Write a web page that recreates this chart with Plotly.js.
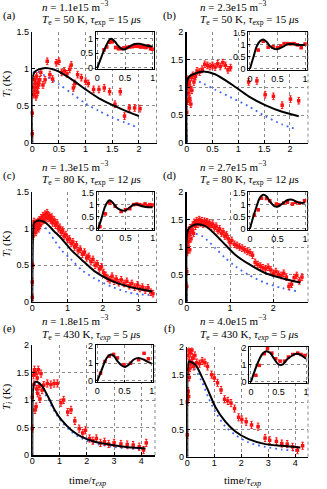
<!DOCTYPE html>
<html>
<head>
<meta charset="utf-8">
<script src="https://cdn.plot.ly/plotly-3.0.1.min.js"></script>
<style>
  html, body { margin: 0; padding: 0; background: #fff; }
  #fig { width: 327px; height: 489px; }
</style>
</head>
<body>
<div id="fig"></div>
<script>
// ---- panel (a) ----
var aX = [0.0, 0.0, 0.02, 0.03, 0.04, 0.05, 0.06, 0.07, 0.08, 0.09, 0.1, 0.11, 0.12, 0.14, 0.16, 0.2, 0.24, 0.28, 0.33, 0.38, 0.45, 0.5, 0.55, 0.6, 0.65, 0.7, 0.73, 0.77, 0.8, 0.85, 0.92, 1.0, 1.05, 1.15, 1.25, 1.35, 1.45, 1.55, 1.65, 1.73, 1.82, 1.92, 2.02];
var aY = [0.12, 0.4, 0.65, 0.75, 0.85, 0.7, 0.8, 0.62, 0.9, 0.75, 0.68, 0.82, 0.78, 0.85, 0.95, 0.78, 0.85, 1.1, 0.92, 0.86, 1.08, 1.1, 0.95, 0.97, 0.93, 0.99, 1.05, 0.74, 0.8, 0.92, 0.88, 0.83, 0.8, 0.72, 0.72, 0.74, 0.69, 0.52, 0.69, 0.36, 0.47, 0.47, 0.46];
var aFitX = [0, 0.01, 0.05, 0.12, 0.25, 0.4, 0.5, 0.75, 1.0, 1.25, 1.5, 1.75, 2.0];
var aFitY = [0, 0.9, 0.96, 0.99, 1.01, 0.99, 0.96, 0.85, 0.72, 0.6, 0.51, 0.43, 0.36];
var aBlueX = [0, 0.02, 0.1, 0.25, 0.5, 0.75, 1.0, 1.25, 1.5, 1.75, 2.0];
var aBlueY = [0, 0.95, 0.96, 0.9, 0.79, 0.66, 0.53, 0.43, 0.34, 0.27, 0.2];
var aInX = [0.12, 0.17, 0.22, 0.27, 0.33, 0.38, 0.43, 0.48, 0.53, 0.58, 0.63, 0.68, 0.73, 0.78, 0.83, 0.88, 0.92, 0.96, 0.99];
var aInY = [0.62, 0.72, 0.88, 0.9, 0.7, 0.66, 0.66, 0.68, 0.7, 0.72, 0.73, 0.74, 0.74, 0.72, 0.72, 0.7, 0.75, 0.66, 0.64];
var aInFitX = [0, 0.05, 0.1, 0.16, 0.22, 0.25, 0.32, 0.38, 0.45, 0.5, 0.58, 0.67, 0.76, 0.85, 1.0];
var aInFitY = [0, 0.25, 0.5, 0.77, 0.97, 1.0, 0.9, 0.75, 0.64, 0.64, 0.73, 0.82, 0.83, 0.79, 0.73];

// ---- panel (b) ----
var bX = [0.0, 0.01, 0.02, 0.03, 0.04, 0.05, 0.06, 0.07, 0.08, 0.09, 0.1, 0.12, 0.14, 0.17, 0.2, 0.25, 0.3, 0.35, 0.4, 0.45, 0.5, 0.55, 0.6, 0.65, 0.7, 0.75, 0.8, 0.85, 1.2, 1.36, 1.52, 1.68, 1.85, 2.01, 2.17];
var bY = [0.55, 1.15, 0.75, 1.05, 0.9, 1.1, 0.8, 1.0, 0.7, 1.18, 0.95, 1.22, 1.1, 1.2, 1.3, 1.28, 1.33, 1.42, 1.4, 1.38, 1.4, 1.37, 1.43, 1.38, 1.45, 1.4, 1.32, 1.36, 1.1, 1.12, 0.87, 0.84, 0.68, 0.79, 0.76];
var bFitX = [0, 0.01, 0.05, 0.15, 0.33, 0.55, 0.88, 1.2, 1.52, 1.85, 2.17];
var bFitY = [0, 1.12, 1.2, 1.25, 1.29, 1.24, 1.05, 0.84, 0.68, 0.56, 0.48];
var bBlueX = [0, 0.02, 0.05, 0.3, 0.55, 0.88, 1.2, 1.52, 1.85, 2.14];
var bBlueY = [0, 1.1, 1.17, 1.08, 0.96, 0.81, 0.66, 0.48, 0.33, 0.24];
var bInX = [0.15, 0.24, 0.33, 0.42, 0.5, 0.56, 0.62, 0.68, 0.74, 0.8, 0.86, 0.93, 1.0];
var bInY = [0.78, 1.15, 0.9, 0.92, 0.88, 0.95, 1.05, 1.05, 1.04, 1.05, 1.0, 0.88, 1.03];
var bInFitX = [0, 0.065, 0.12, 0.18, 0.24, 0.3, 0.36, 0.44, 0.5, 0.6, 0.68, 0.77, 0.86, 1.0];
var bInFitY = [0, 0.5, 0.92, 1.15, 1.22, 1.13, 0.95, 0.83, 0.82, 0.92, 1.02, 1.03, 0.99, 0.99];

// ---- panel (c) ----
var cX = [0.0, 0.0, 0.01, 0.02, 0.03, 0.04, 0.05, 0.06, 0.08, 0.1, 0.12, 0.14, 0.16, 0.18, 0.2, 0.22, 0.25, 0.28, 0.3, 0.33, 0.36, 0.39, 0.42, 0.45, 0.48, 0.52, 0.55, 0.58, 0.62, 0.66, 0.7, 0.74, 0.78, 0.82, 0.86, 0.9, 0.95, 1.0, 1.05, 1.1, 1.15, 1.2, 1.25, 1.3, 1.36, 1.42, 1.48, 1.54, 1.6, 1.66, 1.72, 1.78, 1.84, 1.9, 1.96, 2.02, 2.08, 2.14, 2.2, 2.26, 2.32, 2.38, 2.45, 2.52, 2.6, 2.68, 2.75, 2.82, 2.9, 2.98, 3.05, 3.12, 3.2, 3.28, 3.36, 3.42];
var cY = [0.06, 0.27, 0.5, 0.9, 1.05, 0.95, 1.1, 1.0, 1.05, 0.95, 1.08, 1.02, 1.1, 1.0, 1.12, 1.05, 1.15, 1.1, 1.18, 1.12, 1.2, 1.15, 1.22, 1.14, 1.18, 1.12, 1.16, 1.08, 1.12, 1.05, 1.08, 1.0, 1.02, 0.95, 0.98, 0.9, 0.92, 0.85, 0.86, 0.8, 0.82, 0.75, 0.78, 0.7, 0.72, 0.65, 0.68, 0.6, 0.62, 0.55, 0.58, 0.5, 0.52, 0.45, 0.48, 0.4, 0.36, 0.32, 0.3, 0.35, 0.28, 0.31, 0.26, 0.3, 0.25, 0.28, 0.22, 0.25, 0.2, 0.23, 0.18, 0.2, 0.16, 0.19, 0.13, 0.11];
var cFitX = [0, 0.02, 0.05, 0.15, 0.35, 0.63, 0.82, 1.1, 1.39, 1.76, 2.23, 2.7, 3.17, 3.4];
var cFitY = [0, 0.9, 1.08, 1.11, 1.09, 0.96, 0.87, 0.71, 0.58, 0.42, 0.29, 0.21, 0.16, 0.14];
var cBlueX = [0, 0.02, 0.08, 0.35, 0.63, 0.82, 1.1, 1.39, 1.76, 2.23, 2.7, 3.08, 3.35];
var cBlueY = [0, 0.95, 1.04, 1.02, 0.84, 0.71, 0.58, 0.44, 0.32, 0.21, 0.13, 0.1, 0.09];
var cInX = [0.03, 0.13, 0.21, 0.31, 0.42, 0.5, 0.58, 0.65, 0.71, 0.76, 0.81, 0.86, 0.91, 0.95, 0.99];
var cInY = [0.07, 0.61, 1.07, 0.93, 0.71, 0.79, 0.83, 1.0, 1.02, 1.0, 0.97, 1.03, 0.95, 1.0, 0.98];
var cInFitX = [0, 0.06, 0.12, 0.18, 0.21, 0.27, 0.33, 0.42, 0.48, 0.55, 0.64, 0.7, 0.79, 0.91, 1.0];
var cInFitY = [0, 0.43, 0.89, 1.14, 1.18, 1.07, 0.89, 0.77, 0.74, 0.83, 0.99, 1.02, 0.94, 0.89, 0.89];

// ---- panel (d) ----
var dX = [0.0, 0.0, 0.01, 0.02, 0.03, 0.04, 0.05, 0.06, 0.07, 0.08, 0.1, 0.12, 0.14, 0.16, 0.18, 0.2, 0.23, 0.26, 0.29, 0.32, 0.35, 0.38, 0.41, 0.44, 0.47, 0.5, 0.53, 0.56, 0.6, 0.64, 0.68, 0.72, 0.76, 0.8, 0.84, 0.88, 0.92, 0.96, 1.0, 1.04, 1.1, 1.16, 1.22, 1.28, 1.34, 1.4, 1.46, 1.52, 1.58, 1.64, 1.7, 1.76, 1.82, 1.88, 1.94, 2.0, 2.06, 2.12, 2.18, 2.24, 2.3, 2.36, 2.42, 2.48, 2.54, 2.6, 2.66];
var dY = [0.28, 0.55, 0.9, 1.2, 1.0, 1.3, 1.1, 1.25, 0.95, 1.35, 1.15, 1.3, 1.4, 1.25, 1.45, 1.38, 1.48, 1.42, 1.5, 1.44, 1.48, 1.42, 1.47, 1.43, 1.46, 1.4, 1.44, 1.38, 1.42, 1.35, 1.38, 1.3, 1.33, 1.25, 1.28, 1.2, 1.22, 1.15, 1.08, 1.12, 1.05, 1.03, 1.0, 0.98, 0.95, 0.92, 0.9, 0.85, 0.72, 0.68, 0.65, 0.62, 0.6, 0.63, 0.58, 0.52, 0.55, 0.5, 0.48, 0.52, 0.45, 0.28, 0.32, 0.44, 0.48, 0.38, 0.45];
var dFitX = [0, 0.01, 0.05, 0.2, 0.43, 0.66, 0.89, 1.12, 1.43, 1.82, 2.2, 2.62];
var dFitY = [0, 1.25, 1.34, 1.41, 1.38, 1.23, 1.04, 0.86, 0.69, 0.52, 0.43, 0.35];
var dBlueX = [0, 0.02, 0.08, 0.35, 0.66, 0.89, 1.12, 1.43, 1.82, 2.2, 2.55];
var dBlueY = [0, 1.2, 1.25, 1.2, 0.98, 0.8, 0.65, 0.49, 0.34, 0.25, 0.19];
var dInX = [0.08, 0.15, 0.21, 0.3, 0.36, 0.48, 0.52, 0.61, 0.68, 0.77, 0.83, 0.9, 0.99];
var dInY = [0.57, 0.79, 1.27, 1.26, 1.17, 1.03, 1.0, 1.07, 1.11, 1.03, 1.1, 1.07, 1.17];
var dInFitX = [0, 0.06, 0.12, 0.18, 0.24, 0.3, 0.36, 0.45, 0.5, 0.6, 0.68, 0.77, 0.86, 0.95, 1.0];
var dInFitY = [0, 0.5, 0.93, 1.3, 1.42, 1.36, 1.14, 0.93, 0.92, 1.07, 1.2, 1.21, 1.11, 1.07, 1.1];

// ---- panel (e) ----
var eX = [0.0, 0.0, 0.04, 0.06, 0.08, 0.1, 0.12, 0.14, 0.16, 0.18, 0.2, 0.22, 0.25, 0.28, 0.32, 0.36, 0.42, 0.55, 0.68, 0.8, 0.92, 1.05, 1.15, 1.3, 1.42, 1.56, 1.72, 1.85, 1.95, 2.1, 2.22, 2.35, 2.5, 2.65, 2.8, 3.0, 3.25, 3.48, 3.7, 3.92, 4.08, 4.18];
var eY = [0.48, 1.05, 1.45, 1.28, 1.55, 0.82, 1.5, 0.88, 1.2, 1.4, 1.12, 1.55, 1.25, 1.02, 1.48, 1.18, 1.27, 1.3, 1.28, 1.3, 1.3, 0.95, 1.0, 0.78, 0.82, 0.62, 0.48, 0.4, 0.45, 0.3, 0.26, 0.3, 0.22, 0.24, 0.2, 0.22, 0.2, 0.19, 0.18, 0.15, 0.09, 0.22];
var eFitX = [0, 0.02, 0.05, 0.12, 0.33, 0.58, 0.82, 1.07, 1.44, 1.81, 2.3, 2.92, 3.53, 4.15];
var eFitY = [0, 1.15, 1.28, 1.33, 1.27, 1.06, 0.82, 0.64, 0.45, 0.33, 0.24, 0.18, 0.14, 0.12];
var eBlueX = [0, 0.03, 0.2, 0.58, 0.82, 1.07, 1.44, 1.81, 2.3, 2.92, 3.53, 4.1];
var eBlueY = [0, 1.2, 1.3, 1.01, 0.79, 0.61, 0.42, 0.3, 0.21, 0.15, 0.12, 0.1];
var eInX = [0.06, 0.14, 0.22, 0.3, 0.37, 0.49, 0.61, 0.76, 0.86, 0.94];
var eInY = [0.44, 1.1, 1.4, 1.5, 1.3, 0.92, 1.0, 1.2, 1.56, 1.25];
var eInFitX = [0, 0.07, 0.13, 0.19, 0.25, 0.31, 0.37, 0.45, 0.51, 0.58, 0.67, 0.76, 0.85, 0.94, 1.0];
var eInFitY = [0, 0.54, 1.02, 1.37, 1.5, 1.4, 1.12, 0.87, 0.79, 0.92, 1.21, 1.3, 1.21, 1.06, 0.98];

// ---- panel (f) ----
var fX = [0.0, 0.0, 0.02, 0.03, 0.04, 0.05, 0.06, 0.07, 0.08, 0.1, 0.12, 0.14, 0.17, 0.2, 0.24, 0.28, 0.35, 0.45, 0.55, 0.65, 0.75, 0.9, 1.0, 1.12, 1.25, 1.38, 1.5, 1.62, 1.75, 1.9, 2.02, 2.18, 2.38, 2.62, 2.88, 3.05, 3.3, 3.5, 3.7, 3.9, 4.08, 4.27];
var fY = [0.4, 1.0, 1.85, 1.2, 1.6, 1.1, 1.95, 1.45, 1.75, 1.62, 1.9, 1.7, 1.95, 1.8, 1.65, 1.85, 1.72, 1.7, 1.75, 1.72, 1.65, 1.5, 1.44, 1.35, 1.22, 1.05, 1.02, 0.98, 0.88, 0.72, 0.68, 0.64, 0.58, 0.55, 0.34, 0.3, 0.28, 0.24, 0.23, 0.18, 0.12, 0.2];
var fFitX = [0, 0.01, 0.03, 0.07, 0.3, 0.54, 0.79, 1.04, 1.41, 1.78, 2.27, 2.89, 3.5, 4.19];
var fFitY = [0, 1.6, 1.7, 1.74, 1.68, 1.46, 1.19, 0.91, 0.64, 0.46, 0.32, 0.23, 0.2, 0.17];
var fBlueX = [0, 0.03, 0.1, 0.3, 0.54, 0.79, 1.04, 1.41, 1.78, 2.27, 2.89, 3.5, 4.06];
var fBlueY = [0, 1.65, 1.68, 1.59, 1.37, 1.07, 0.82, 0.55, 0.4, 0.26, 0.18, 0.13, 0.11];
var fInX = [0.09, 0.15, 0.24, 0.3, 0.38, 0.45, 0.53, 0.61, 0.68, 0.76, 0.85, 0.91, 0.98];
var fInY = [0.39, 0.97, 1.65, 1.95, 1.69, 1.36, 1.22, 1.22, 1.46, 1.61, 1.69, 1.61, 1.55];
var fInFitX = [0, 0.06, 0.13, 0.21, 0.28, 0.35, 0.42, 0.5, 0.58, 0.65, 0.75, 0.82, 0.9, 1.0];
var fInFitY = [0, 0.58, 1.17, 1.65, 1.8, 1.69, 1.36, 1.03, 1.03, 1.3, 1.55, 1.65, 1.59, 1.36];

// labels
var panelTags = ['(a)', '(b)', '(c)', '(d)', '(e)', '(f)'];
var densities = ['1.1e15', '2.3e15', '1.3e15', '2.7e15', '1.8e15', '4.0e15'];
var tempsK = ['50', '50', '80', '80', '430', '430'];
var tauUs = ['15', '15', '12', '12', '5', '5'];

(function () {
    'use strict';

    var W = 327, H = 489;
    var SANS = 'Liberation Sans, Arial, sans-serif';
    var SERIF = 'Liberation Serif, Times New Roman, serif';
    var RED = '#ff1010';
    var BLUE = '#3f63ff';

    function px(x) { return x / W; }
    function py(y) { return 1 - y / H; }

    // pixel boxes: [left, right, top, bottom]
    var mainBox = [
        [32.3, 156.5, 31.7, 142.7], [186.7, 308, 32.3, 142.7],
        [32.3, 156.5, 192.3, 301.7], [186.7, 308, 192.3, 301.7],
        [32.3, 155, 345, 455], [187.3, 308, 347.3, 456.7]
    ];
    var insetBox = [
        [95.7, 154.3, 31.7, 69], [248.3, 306.7, 32.3, 70],
        [96.7, 154.3, 192.3, 229.5], [248.3, 306.7, 192.3, 230],
        [95.7, 153.3, 345, 382], [249.3, 307.7, 347.3, 383]
    ];
    var mainXMax = [2.33, 2.35, 3.52, 2.8, 4.5, 4.47];
    var mainYMax = [1.5, 2, 1.5, 2, 2, 2];
    var mainXDt = [0.5, 0.5, 1, 1, 1, 1];
    var insetYRange = [[-0.05, 1.25], [-0.05, 1.52], [-0.05, 1.52], [-0.05, 1.52], [-0.06, 2.03], [-0.06, 2.03]];
    var insetYDt = [0.5, 0.5, 0.5, 0.5, 1, 1];
    var errMain = [0.045, 0.06, 0.045, 0.06, 0.065, 0.065];

    var series = [
        [aX, aY, aFitX, aFitY, aBlueX, aBlueY, aInX, aInY, aInFitX, aInFitY],
        [bX, bY, bFitX, bFitY, bBlueX, bBlueY, bInX, bInY, bInFitX, bInFitY],
        [cX, cY, cFitX, cFitY, cBlueX, cBlueY, cInX, cInY, cInFitX, cInFitY],
        [dX, dY, dFitX, dFitY, dBlueX, dBlueY, dInX, dInY, dInFitX, dInFitY],
        [eX, eY, eFitX, eFitY, eBlueX, eBlueY, eInX, eInY, eInFitX, eInFitY],
        [fX, fY, fFitX, fFitY, fBlueX, fBlueY, fInX, fInY, fInFitX, fInFitY]
    ];

    var data = [];
    var layout = {
        width: W, height: H,
        margin: {l: 0, r: 0, t: 0, b: 0},
        paper_bgcolor: '#fff',
        plot_bgcolor: '#fff',
        showlegend: false,
        font: {family: SANS, size: 9, color: '#000'},
        annotations: [],
        shapes: []
    };

    function sid(n) { return n === 1 ? '' : String(n); }

    function redTrace(x, y, err, n) {
        return {
            x: x, y: y, xaxis: 'x' + sid(n), yaxis: 'y' + sid(n),
            type: 'scatter', mode: 'markers',
            marker: {symbol: 'square', size: 3.5, color: RED},
            error_y: {type: 'constant', value: err, color: RED, thickness: 1, width: 1.2},
            cliponaxis: false
        };
    }

    function lineTrace(x, y, n, color, width, dash) {
        return {
            x: x, y: y, xaxis: 'x' + sid(n), yaxis: 'y' + sid(n),
            type: 'scatter', mode: 'lines',
            line: {color: color, width: width, dash: dash, shape: 'spline', smoothing: 0.8}
        };
    }

    for (var i = 0; i < 6; i++) {
        var s = series[i];
        var m = i + 1, k = i + 7;
        var mb = mainBox[i], ib = insetBox[i];

        data.push(lineTrace(s[4], s[5], m, BLUE, 1.8, '1.8px,4px'));
        data.push(redTrace(s[0], s[1], errMain[i], m));
        data.push(lineTrace(s[2], s[3], m, '#000', 2, 'solid'));

        data.push(redTrace(s[6], s[7], 0.04, k));
        data.push(lineTrace(s[8], s[9], k, '#000', 2, 'solid'));

        layout['xaxis' + sid(m)] = {
            domain: [px(mb[0]), px(mb[1])], anchor: 'y' + sid(m),
            range: [0, mainXMax[i]], dtick: mainXDt[i], tick0: 0,
            showline: true, linecolor: '#000', linewidth: 1.6,
            ticks: 'inside', ticklen: 3, tickcolor: '#000',
            ticklabelstandoff: -3,
            showgrid: true, gridcolor: '#8a8a8a', griddash: 'dot', gridwidth: 1,
            zeroline: false, tickfont: {family: SANS, size: 9}
        };
        layout['yaxis' + sid(m)] = {
            domain: [py(mb[3]), py(mb[2])], anchor: 'x' + sid(m),
            range: [0, mainYMax[i]], dtick: 0.5, tick0: 0,
            showline: true, linecolor: '#000', linewidth: 1.6,
            ticks: 'inside', ticklen: 3, tickcolor: '#000',
            showgrid: true, gridcolor: '#8a8a8a', griddash: 'dot', gridwidth: 1,
            zeroline: false, tickfont: {family: SANS, size: 9}
        };
        layout['xaxis' + k] = {
            domain: [px(ib[0]), px(ib[1])], anchor: 'y' + k,
            range: [-0.03, 1.03], dtick: 0.5, tick0: 0,
            showline: true, mirror: true, linecolor: '#000', linewidth: 1,
            ticks: 'inside', ticklen: 2, tickcolor: '#000',
            showgrid: true, gridcolor: '#8a8a8a', griddash: 'dot', gridwidth: 1,
            zeroline: false, tickfont: {family: SANS, size: 9}
        };
        layout['yaxis' + k] = {
            domain: [py(ib[3]), py(ib[2])], anchor: 'x' + k,
            range: insetYRange[i], dtick: insetYDt[i], tick0: 0,
            showline: true, mirror: true, linecolor: '#000', linewidth: 1,
            ticks: 'inside', ticklen: 2, tickcolor: '#000',
            showgrid: true, gridcolor: '#8a8a8a', griddash: 'dot', gridwidth: 1,
            zeroline: false, tickfont: {family: SANS, size: 9}
        };

        // dotted right edge of main frame
        layout.shapes.push({
            type: 'line', xref: 'x' + sid(m) + ' domain', yref: 'y' + sid(m) + ' domain',
            x0: 1, x1: 1, y0: 0, y1: 1,
            line: {color: '#8a8a8a', width: 1, dash: 'dot'}
        });

        // panel texts
        var left = i % 2 === 0;
        var row = Math.floor(i / 2);
        var textX = left ? 40 : 198;
        var line1Y = [6, 166, 319.5][row];
        var line2Y = [20, 180, 335][row];
        var tagY = [15, 175, 328][row];
        var tauTxt = row === 2 ? '<i>τ<sub>exp</sub></i>' : '<i>τ</i><sub>exp</sub>';
        layout.annotations.push({
            xref: 'paper', yref: 'paper', x: px(textX), y: py(line1Y),
            xanchor: 'left', yanchor: 'middle', showarrow: false,
            text: '<i>n</i> = ' + densities[i] + ' m<sup>−3</sup>',
            font: {family: SERIF, size: 11}
        });
        layout.annotations.push({
            xref: 'paper', yref: 'paper', x: px(textX), y: py(line2Y),
            xanchor: 'left', yanchor: 'middle', showarrow: false,
            text: '<i>T</i><sub>e</sub> = ' + tempsK[i] + ' K, ' + tauTxt + ' = ' + tauUs[i] + ' <i>μ</i>s',
            font: {family: SERIF, size: 11}
        });
        layout.annotations.push({
            xref: 'paper', yref: 'paper', x: px(left ? 9 : 169), y: py(tagY),
            xanchor: 'center', yanchor: 'middle', showarrow: false,
            text: panelTags[i], font: {family: SERIF, size: 11}
        });
        if (left) {
            layout.annotations.push({
                xref: 'paper', yref: 'paper', x: px(7), y: py((mb[2] + mb[3]) / 2 - 3),
                xanchor: 'center', yanchor: 'middle', showarrow: false, textangle: -90,
                text: '<i>T<sub>i</sub></i> (K)', font: {family: SERIF, size: 11}
            });
        }
        if (row === 2) {
            layout.annotations.push({
                xref: 'paper', yref: 'paper', x: px(left ? 88 : 242), y: py(481),
                xanchor: 'center', yanchor: 'middle', showarrow: false,
                text: 'time/<i>τ<sub>exp</sub></i>', font: {family: SERIF, size: 11}
            });
        }
    }

    Plotly.newPlot('fig', data, layout, {staticPlot: true, displayModeBar: false});
})();
</script>
</body>
</html>
